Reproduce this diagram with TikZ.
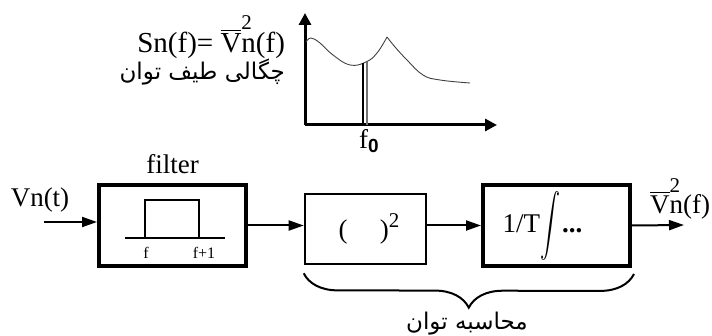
\documentclass[tikz,border=0pt]{standalone}
\usepackage{fontspec}
\usepackage{graphicx}
\setmainfont{Liberation Serif}
\setsansfont{Liberation Sans}
\newfontfamily\persfont[Script=Arabic]{DejaVu Sans}
\TeXXeTstate=1
\usetikzlibrary{positioning, arrows.meta, decorations.pathreplacing, calc}

% V-bar with the square sitting over the n
\newcommand{\vnsq}[1]{$\overline{\mbox{V}}$\rlap{\raisebox{#1}{\fontsize{10.5}{10}\selectfont 2}}n(f)}

\begin{document}
\begin{tikzpicture}[
    x=0.5pt, y=-0.5pt,
    font=\fontsize{13.5}{15}\selectfont,
    block/.style={
        draw, line width=2pt,
        inner sep=0pt,
        minimum width=73.5pt,
        minimum height=40.5pt
    },
    sqbox/.style={
        draw, line width=1.3pt,
        inner sep=0pt,
        minimum width=60.5pt,
        minimum height=35pt
    },
    arrow/.style={-{Triangle[length=7.5pt,width=5pt]}, line width=1pt},
    axis/.style={-{Triangle[length=6pt,width=6pt]}, line width=1.5pt},
    curve/.style={line width=0.45pt, black!75},
    pulse/.style={line width=1.2pt},
    small/.style={font=\fontsize{8}{9}\selectfont},
    pers/.style={font=\persfont\fontsize{11.5}{13}\selectfont}
]
\useasboundingbox (0,0) rectangle (712,336);

% ===================== SPECTRUM PLOT =====================
\coordinate (O) at (305,125);
\coordinate (ytop) at (305,13);
\coordinate (xend) at (497,125);
\draw[axis] (O) -- (ytop);
\draw[axis] (O) -- (xend);

\draw[curve] plot[smooth, tension=0.7] coordinates
  {(306,42) (311,38) (320,43) (333,55) (350,65) (366,62) (377,53) (387,37)};
\draw[curve] plot[smooth, tension=0.7] coordinates
  {(387,37) (395,47) (407,60) (423,75) (440,80) (470,83)};

% narrow band around f0
\draw[line width=0.6pt] (363,63) -- (363,125);
\draw[line width=0.6pt, black!55] (367,62) -- (367,125);

\node (f0lab) at (369,141)
  {f\raisebox{-0.35ex}{\fontsize{9.5}{9}\selectfont\sffamily\bfseries 0}};

\node[anchor=east, font=\fontsize{14.5}{15}\selectfont] (snlab) at (292,37)
  {Sn(f)= \vnsq{0.78em}};
\node[anchor=east, pers] (denslab) at (292,72)
  {\beginR چگالی طیف توان\endR};

% ===================== BLOCK CHAIN =====================
\node[block] (filt) at (172.5,225.5) {};
\node[above=1pt of filt] (filtlab) {filter};

\node[sqbox] (sq) at (365.5,229)
  {\hspace*{4pt}(\hspace{1.2em})\textsuperscript{\fontsize{10.5}{10}\selectfont 2}};

\node[block] (integ) at (556.5,225.5)
  {1/T$\vcenter{\hbox{\scalebox{1}[1.55]{$\displaystyle\int$}}}$\hspace{1pt}\textbf{...}\hspace*{14pt}};

% band-pass sketch inside the filter
\draw[pulse] (125,238) -- (225,238);
\draw[pulse] (145,238) -- (145,200) -- (199,200) -- (199,238);
\node[small] (flo) at (146,253) {f};
\node[small] (fhi) at (204,253) {f+1};

% ===================== SIGNAL FLOW =====================
\node (vin) at (40,200) {Vn(t)};
\coordinate (instart) at (44,222);
\coordinate (outend) at (684,225);

\draw[arrow] (instart) -- (instart -| filt.west);
\draw[arrow] (filt.east) -- (filt.east -| sq.west);
\draw[arrow] (sq.east |- integ.west) -- (integ.west);
\draw[arrow] (integ.east) -- (outend);

\node (vout) at (680,199) {\vnsq{0.75em}};

% ===================== POWER ESTIMATE BRACE =====================
\draw[decorate, decoration={brace, mirror, amplitude=17pt}, line width=1pt]
  ($(sq.south west)+(0,8)$) -- ($(integ.south east)+(2,6)$);
\node[pers] (powlab) at (467,324) {\beginR محاسبه توان\endR};

\end{tikzpicture}
\end{document}
